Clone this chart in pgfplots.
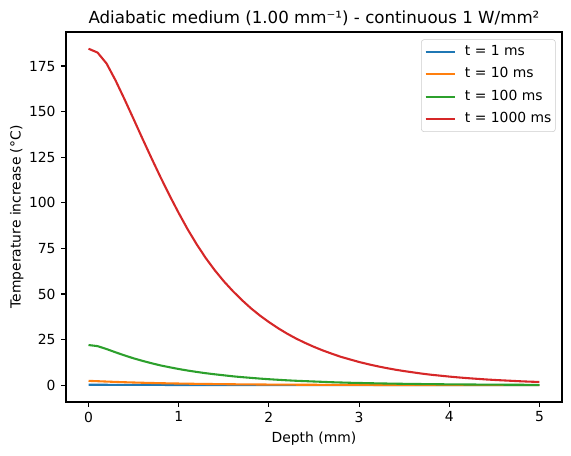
\documentclass[border=0pt]{standalone}
\usepackage{pgfplots}
\pgfplotsset{compat=1.18}
\usepackage{fontspec}
\setmainfont{DejaVu Sans}
\definecolor{c0}{HTML}{1F77B4}
\definecolor{c1}{HTML}{FF7F0E}
\definecolor{c2}{HTML}{2CA02C}
\definecolor{c3}{HTML}{D62728}
\begin{document}
\begin{tikzpicture}
\begin{axis}[
  at={(0,0)}, anchor=south west,
  scale only axis, width=357.1pt, height=266.4pt,
  xmin=-0.25, xmax=5.25, ymin=-9.23, ymax=193.7,
  xtick={0,1,2,3,4,5}, ytick={0,25,50,75,100,125,150,175},
  tick align=outside, major tick length=3.5pt,
  every tick/.style={line width=0.8pt, black},
  axis line style={line width=0.8pt},
  tick pos=left,
  /pgf/number format/assume math mode=true,
  ticklabel style={font=\fontsize{10}{12}\selectfont},
  yticklabel style={xshift=-0.5pt},
  title={Adiabatic medium (1.00 mm⁻¹) - continuous 1 W/mm²},
  title style={font=\fontsize{12}{14}\selectfont, yshift=-5pt},
  xlabel={Depth (mm)}, ylabel={Temperature increase (°C)},
  label style={font=\fontsize{10}{12}\selectfont},
  ylabel style={yshift=-3pt},
  legend cell align=left,
  legend style={at={(1,1)}, anchor=north east, xshift=-4.5pt, yshift=-5.3pt,
    draw=black!20, rounded corners=2pt, fill=white, fill opacity=0.8, text opacity=1,
    font=\fontsize{10}{12}\selectfont, inner xsep=2.4pt, inner ysep=3.5pt, row sep=5.1pt,
    nodes={inner sep=0.5pt, text height=7.5pt, text depth=2.5pt}},
  legend image code/.code={\draw[line width=1.5pt] (0pt,0pt) -- (21pt,0pt);},
  every axis plot/.append style={line width=1.5pt},
]
\addplot[c0] coordinates {
(0.0,0.235)(0.1,0.216)(0.2,0.196)(0.3,0.177)(0.4,0.160)(0.5,0.145)(0.6,0.131)(0.7,0.119)(0.8,0.107)(0.9,0.097)
(1.0,0.088)(1.1,0.080)(1.2,0.072)(1.3,0.065)(1.4,0.059)(1.5,0.053)(1.6,0.048)(1.7,0.044)(1.8,0.040)(1.9,0.036)
(2.0,0.032)(2.5,0.020)(3.0,0.012)(3.5,0.007)(4.0,0.004)(4.5,0.003)(5.0,0.002)};
\addlegendentry{\hspace{6pt}t = 1 ms}
\addplot[c1] coordinates {
(0.0,2.35)(0.1,2.16)(0.2,1.96)(0.3,1.77)(0.4,1.60)(0.5,1.45)(0.6,1.31)(0.7,1.19)(0.8,1.07)(0.9,0.97)
(1.0,0.88)(1.1,0.80)(1.2,0.72)(1.3,0.65)(1.4,0.59)(1.5,0.53)(1.6,0.48)(1.7,0.44)(1.8,0.40)(1.9,0.36)
(2.0,0.32)(2.1,0.29)(2.2,0.26)(2.3,0.24)(2.4,0.22)(2.5,0.20)(2.6,0.18)(2.7,0.16)(2.8,0.145)(2.9,0.13)
(3.0,0.12)(3.2,0.098)(3.4,0.080)(3.6,0.066)(3.8,0.054)(4.0,0.044)(4.2,0.036)(4.4,0.030)(4.6,0.024)(4.8,0.020)(5.0,0.016)};
\addlegendentry{\hspace{6pt}t = 10 ms}
\addplot[c2] coordinates {
(0.0,22.0)(0.1,21.4)(0.2,19.8)(0.3,18.0)(0.4,16.3)(0.5,14.7)(0.6,13.3)(0.7,12.0)(0.8,10.8)(0.9,9.8)
(1.0,8.85)(1.1,8.0)(1.2,7.25)(1.3,6.55)(1.4,5.95)(1.5,5.4)(1.6,4.85)(1.7,4.4)(1.8,4.0)(1.9,3.6)
(2.0,3.25)(2.1,2.95)(2.2,2.65)(2.3,2.4)(2.4,2.2)(2.5,2.0)(2.6,1.8)(2.7,1.6)(2.8,1.45)(2.9,1.3)
(3.0,1.2)(3.1,1.08)(3.2,0.98)(3.3,0.89)(3.4,0.80)(3.5,0.73)(3.6,0.66)(3.7,0.60)(3.8,0.54)(3.9,0.49)
(4.0,0.44)(4.1,0.40)(4.2,0.36)(4.3,0.33)(4.4,0.30)(4.5,0.27)(4.6,0.24)(4.7,0.22)(4.8,0.20)(4.9,0.18)(5.0,0.16)};
\addlegendentry{\hspace{6pt}t = 100 ms}
\addplot[c3] coordinates {
(0.0,184.5)(0.1,182.4)(0.2,176.4)(0.3,167.1)(0.4,156.7)(0.5,145.9)(0.6,135.0)(0.7,124.3)(0.8,113.9)(0.9,103.9)
(1.0,94.4)(1.1,85.4)(1.2,77.2)(1.3,69.7)(1.4,63.0)(1.5,57.0)(1.6,51.6)(1.7,46.7)(1.8,42.2)(1.9,38.2)
(2.0,34.6)(2.1,31.3)(2.2,28.3)(2.3,25.6)(2.4,23.2)(2.5,21.0)(2.6,19.0)(2.7,17.2)(2.8,15.5)(2.9,14.1)
(3.0,12.7)(3.1,11.5)(3.2,10.4)(3.3,9.4)(3.4,8.5)(3.5,7.7)(3.6,7.0)(3.7,6.3)(3.8,5.7)(3.9,5.2)
(4.0,4.7)(4.1,4.25)(4.2,3.85)(4.3,3.5)(4.4,3.15)(4.5,2.85)(4.6,2.6)(4.7,2.35)(4.8,2.1)(4.9,1.9)(5.0,1.75)};
\addlegendentry{\hspace{6pt}t = 1000 ms}
\end{axis}
\pgfresetboundingbox
\path[use as bounding box] (-47.5pt,-38.2pt) rectangle (363.6pt,289.4pt);
\end{tikzpicture}
\end{document}
